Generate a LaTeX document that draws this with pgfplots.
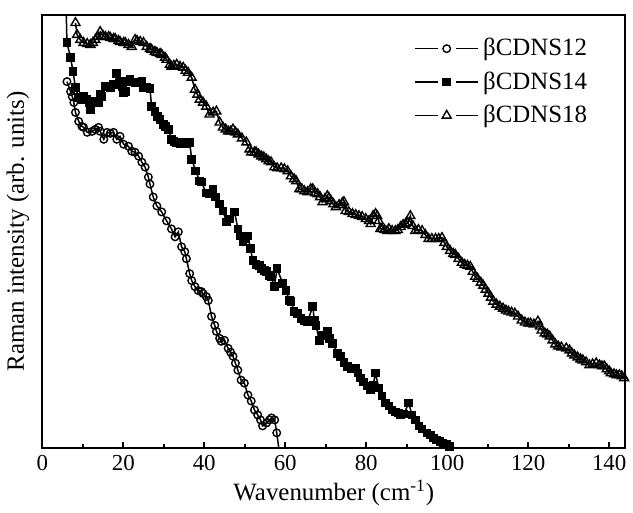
\documentclass[border=0pt]{standalone}
\usepackage{fontspec}
\setmainfont{Liberation Serif}
\usepackage{pgfplots}
\pgfplotsset{compat=1.18}

\begin{document}
\begin{tikzpicture}
\begin{axis}[
  scale only axis,
  width=293pt, height=217.5pt,
  xmin=0, xmax=144, ymin=0, ymax=435,
  xtick={0,20,...,140}, minor xtick={10,30,...,130},
  ytick=\empty,
  xtick pos=bottom, tick align=inside,
  major tick length=3pt, minor tick length=2pt,
  axis line style={line width=1pt},
  every tick/.style={line width=0.8pt, black},
  /pgf/number format/assume math mode=true,
  tick label style={font=\fontsize{11.5}{13}\selectfont},
  label style={font=\fontsize{12.5}{15}\selectfont},
  xlabel={Wavenumber (cm\textsuperscript{-1})},
  ylabel={Raman intensity (arb. units)},
  xlabel style={yshift=2pt},
  ylabel style={yshift=3pt},
  legend style={at={(0.952,0.965)}, anchor=north east, draw=none, fill=none,
    font=\fontsize{12.5}{14}\selectfont, row sep=2.5pt},
  legend cell align=left,
  legend image code/.code={
    \draw[#1, mark=none] (0cm,0cm) -- (0.4cm,0cm);
    \draw[#1, mark=none] (0.72cm,0cm) -- (1.12cm,0cm);
    \draw[#1, only marks] plot coordinates {(0.56cm,0cm)};
  },
]
% tails of the lines that run to the axis frame
\addplot[black, line width=0.75pt, forget plot] coordinates {(57.9,15)(58.4,0)};
\addplot[black, line width=0.75pt, forget plot] coordinates {(5.9,440)(6.1,407)};

\addplot[black, line width=0.75pt, mark=o, mark size=1.9pt,
  mark options={fill=white, line width=0.7pt}] coordinates {
(6.1,368)(7.0,358)(7.4,353)(7.8,347)(8.2,337)(9.0,328)(9.8,323)(10.2,322)
(11.1,317)(12.3,318)(13.1,320)(13.9,322)(14.3,318)(15.2,310)(16.0,317)(16.8,316)
(17.6,317)(18.4,310)(19.2,313)(20.1,305)(21.3,303)(22.1,298)(22.9,297)(23.8,293)
(24.6,287)(25.4,282)(26.2,272)(26.6,265)(27.4,252)(28.3,243)(29.5,237)(30.7,228)
(31.9,220)(32.8,212)(33.6,217)(34.4,202)(35.2,197)(35.6,190)(36.4,175)(36.9,168)
(37.7,162)(38.5,158)(39.3,157)(39.7,155)(40.5,152)(41.0,148)(41.8,132)(42.6,123)
(43.0,117)(43.8,110)(44.2,107)(45.0,108)(45.9,100)(46.5,96)(47.1,92)(47.7,85)
(48.3,78)(49.1,68)(49.9,65)(50.8,53)(51.6,47)(52.4,38)(53.2,33)(53.9,28)
(54.4,22)(55.4,25)(56.1,28)(56.6,30)(57.4,28)(57.9,15)
};
\addlegendentry{βCDNS12}

\addplot[black, line width=0.75pt, mark=square*, mark size=1.8pt,
  mark options={fill=black}] coordinates {
(6.1,407)(7.0,392)(7.6,378)(8.2,362)(9.0,352)(9.6,350)(10.2,353)(11.0,350)
(11.5,347)(11.9,340)(12.7,347)(13.1,348)(13.9,347)(14.3,355)(14.7,353)(15.6,363)
(16.8,362)(17.6,365)(18.0,365)(18.4,376)(19.2,368)(19.7,363)(20.1,357)(20.5,358)
(20.9,368)(21.3,368)(21.7,370)(22.9,367)(23.8,367)(24.2,367)(24.6,368)(25.0,362)
(25.8,362)(26.6,361)(27.0,343)(27.8,338)(28.5,333)(29.1,330)(29.9,325)(30.5,323)
(31.1,320)(31.9,310)(32.5,308)(33.2,307)(34.0,306)(34.8,307)(35.6,306)(36.4,307)
(36.9,290)(37.9,278)(38.9,268)(39.3,267)(40.5,256)(41.3,255)(42.2,260)(42.8,252)
(43.8,245)(44.6,238)(45.5,227)(46.3,230)(47.5,237)(48.3,220)(48.9,213)(49.6,207)
(50.2,210)(50.8,213)(51.4,200)(52.0,188)(52.8,184)(53.6,183)(54.1,180)(54.9,178)
(55.3,177)(56.1,173)(56.5,172)(57.3,162)(58.0,180)(59.4,165)(60.2,158)(61.0,148)
(61.4,147)(62.2,137)(63.1,135)(63.9,130)(64.7,128)(65.5,127)(66.8,142)(67.2,128)
(67.6,123)(68.4,108)(69.2,113)(70.4,117)(71.0,110)(71.7,105)(72.9,95)(73.7,92)
(74.5,86)(75.4,82)(76.2,80)(77.4,80)(78.0,75)(78.6,70)(79.4,66)(80.2,62)
(81.1,58)(81.7,63)(82.3,75)(83.1,60)(83.9,52)(84.7,45)(85.6,42)(86.4,38)
(87.2,36)(88.0,35)(88.5,33)(89.3,34)(90.5,45)(91.3,33)(92.1,28)(93.0,22)
(93.8,19)(95.0,15)(95.8,13)(96.6,10)(97.4,8)(98.2,6)(99.0,4)(99.8,3)
(100.6,1)
};
\addlegendentry{βCDNS14}

\addplot[black, line width=0.75pt, mark=triangle, mark size=2.6pt,
  mark options={fill=white, line width=0.7pt}] coordinates {
(8.2,427)(8.6,415)(9.4,410)(10.2,407)(11.1,406)(11.9,405)(12.5,407)(13.1,410)
(13.7,413)(14.3,418)(15.0,414)(15.6,413)(16.4,413)(16.8,412)(17.6,411)(18.0,411)
(18.8,409)(19.2,408)(20.1,407)(20.5,407)(21.3,405)(22.1,403)(22.9,410)(23.4,409)
(24.2,408)(25.0,407)(25.8,403)(26.6,401)(27.0,400)(27.8,398)(28.3,397)(29.1,396)
(29.5,395)(30.3,392)(30.7,390)(31.5,385)(31.9,383)(32.5,384)(33.2,385)(34.0,383)
(34.8,382)(35.4,379)(36.0,377)(36.9,372)(37.7,360)(38.3,355)(38.9,350)(39.7,347)
(40.5,343)(41.3,335)(42.2,337)(43.0,338)(43.8,327)(44.6,322)(45.3,320)(45.9,318)
(46.5,318)(47.1,320)(47.7,317)(48.3,315)(49.3,311)(50.4,307)(51.2,300)(51.6,297)
(52.4,297)(52.8,297)(53.4,295)(54.1,293)(54.7,292)(55.3,290)(55.9,288)(56.5,287)
(57.3,282)(58.0,281)(59.0,281)(59.8,280)(60.6,278)(61.4,273)(62.2,270)(62.7,268)
(63.5,260)(64.1,260)(64.7,258)(65.5,257)(66.3,260)(66.8,260)(67.4,256)(68.0,255)
(68.6,252)(69.2,247)(69.8,250)(70.4,253)(70.8,251)(71.3,248)(71.9,245)(72.5,242)
(73.3,244)(74.1,246)(74.5,247)(74.9,238)(75.7,237)(76.6,235)(77.4,234)(78.2,233)
(79.0,232)(79.9,230)(80.7,228)(81.1,225)(81.7,233)(82.3,235)(82.7,233)(83.1,228)
(83.5,220)(83.9,220)(84.5,219)(85.2,218)(85.6,220)(86.4,218)(87.2,218)(87.8,219)
(88.5,222)(89.1,224)(89.7,225)(90.3,226)(90.9,233)(91.5,223)(92.1,218)(92.9,219)
(93.8,218)(94.6,214)(95.4,210)(96.2,210)(97.1,210)(97.9,210)(98.7,211)(99.3,206)
(99.9,202)(100.7,198)(101.5,195)(102.0,194)(102.8,190)(103.6,186)(104.3,184)(105.0,183)
(105.7,182)(106.3,177)(106.9,172)(107.5,170)(108.3,166)(108.9,163)(109.5,159)(110.2,155)
(110.8,151)(111.4,147)(112.2,144)(113.0,142)(113.8,140)(114.5,138)(115.1,137)(115.9,136)
(116.7,135)(117.5,132)(118.4,128)(119.2,126)(120.0,125)(120.6,125)(121.4,124)(122.4,127)
(122.9,122)(123.3,118)(124.1,115)(124.7,114)(125.3,112)(126.0,108)(126.7,104)(127.4,102)
(128.2,101)(129.4,100)(130.2,98)(130.8,95)(131.4,93)(132.2,91)(132.9,89)(133.5,88)
(134.3,86)(135.1,83)(135.9,84)(136.8,85)(137.6,83)(138.2,82)(138.8,82)(139.4,79)
(140.0,77)(140.4,75)(141.2,74)(141.8,73)(142.5,73)(143.1,72)(143.7,70)
};
\addlegendentry{βCDNS18}
\end{axis}
% white space above the frame, as in the reference
\path ([yshift=7.5pt]current axis.north) ++(0,0);
\end{tikzpicture}
\end{document}
